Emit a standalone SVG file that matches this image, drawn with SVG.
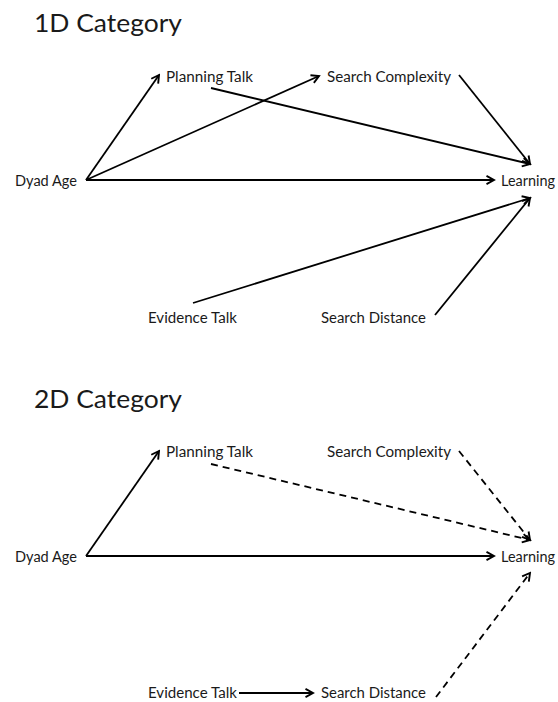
<svg xmlns="http://www.w3.org/2000/svg" width="558" height="702" viewBox="0 0 558 702">
  <style>
    text { font-family: Lato, "Open Sans", "Liberation Sans", sans-serif; fill: #1a1a1a; }
    .title { font-size: 24.5px; }
    .lbl { font-size: 15.5px; }
    .edge { stroke: #000; stroke-width: 1.8; fill: none; marker-end: url(#arrow); }
    .dash { stroke-dasharray: 7 5; }
  </style>
  <defs>
    <marker id="arrow" markerUnits="userSpaceOnUse" markerWidth="12" markerHeight="12" viewBox="0 0 12 12" refX="10" refY="6" orient="auto">
      <path d="M2.5,1.8 L10,6 L2.5,10.2" fill="none" stroke="#000" stroke-width="1.9" stroke-linejoin="miter"/>
    </marker>
  </defs>

  <rect width="558" height="702" fill="#fff"/>

  <!-- upper panel: 1D Category -->
  <g id="panel-1d">
    <text class="title" x="34" y="32" textLength="148" lengthAdjust="spacingAndGlyphs">1D Category</text>
    <g id="n1-planning"><text class="lbl" x="166" y="82" textLength="87" lengthAdjust="spacingAndGlyphs">Planning Talk</text></g>
    <g id="n1-complexity"><text class="lbl" x="327" y="82" textLength="124" lengthAdjust="spacingAndGlyphs">Search Complexity</text></g>
    <g id="n1-age"><text class="lbl" x="15" y="186" textLength="62" lengthAdjust="spacingAndGlyphs">Dyad Age</text></g>
    <g id="n1-learning"><text class="lbl" x="501" y="186" textLength="54" lengthAdjust="spacingAndGlyphs">Learning</text></g>
    <g id="n1-evidence"><text class="lbl" x="148" y="323" textLength="89" lengthAdjust="spacingAndGlyphs">Evidence Talk</text></g>
    <g id="n1-distance"><text class="lbl" x="321" y="323" textLength="105" lengthAdjust="spacingAndGlyphs">Search Distance</text></g>
    <g id="edges-1d">
      <line class="edge" x1="86" y1="180" x2="159" y2="75"/>
      <line class="edge" x1="86" y1="180" x2="319" y2="76"/>
      <line class="edge" x1="86" y1="180" x2="494" y2="180"/>
      <line class="edge" x1="211" y1="88" x2="530" y2="164"/>
      <line class="edge" x1="459" y1="75" x2="530" y2="164"/>
      <line class="edge" x1="193" y1="303" x2="530" y2="198"/>
      <line class="edge" x1="435" y1="315" x2="530" y2="198"/>
    </g>
  </g>

  <!-- lower panel: 2D Category -->
  <g id="panel-2d">
    <text class="title" x="34" y="408" textLength="148" lengthAdjust="spacingAndGlyphs">2D Category</text>
    <g id="n2-planning"><text class="lbl" x="166" y="457" textLength="87" lengthAdjust="spacingAndGlyphs">Planning Talk</text></g>
    <g id="n2-complexity"><text class="lbl" x="327" y="457" textLength="124" lengthAdjust="spacingAndGlyphs">Search Complexity</text></g>
    <g id="n2-age"><text class="lbl" x="15" y="562" textLength="62" lengthAdjust="spacingAndGlyphs">Dyad Age</text></g>
    <g id="n2-learning"><text class="lbl" x="501" y="562" textLength="54" lengthAdjust="spacingAndGlyphs">Learning</text></g>
    <g id="n2-evidence"><text class="lbl" x="148" y="698" textLength="89" lengthAdjust="spacingAndGlyphs">Evidence Talk</text></g>
    <g id="n2-distance"><text class="lbl" x="321" y="698" textLength="105" lengthAdjust="spacingAndGlyphs">Search Distance</text></g>
    <g id="edges-2d">
      <line class="edge" x1="86" y1="556" x2="159" y2="451"/>
      <line class="edge" x1="86" y1="556" x2="494" y2="556"/>
      <line class="edge dash" x1="211" y1="464" x2="530" y2="540"/>
      <line class="edge dash" x1="459" y1="451" x2="530" y2="540"/>
      <line class="edge" x1="239" y1="693" x2="313" y2="693"/>
      <line class="edge dash" x1="436" y1="697" x2="530" y2="573"/>
    </g>
  </g>
</svg>
